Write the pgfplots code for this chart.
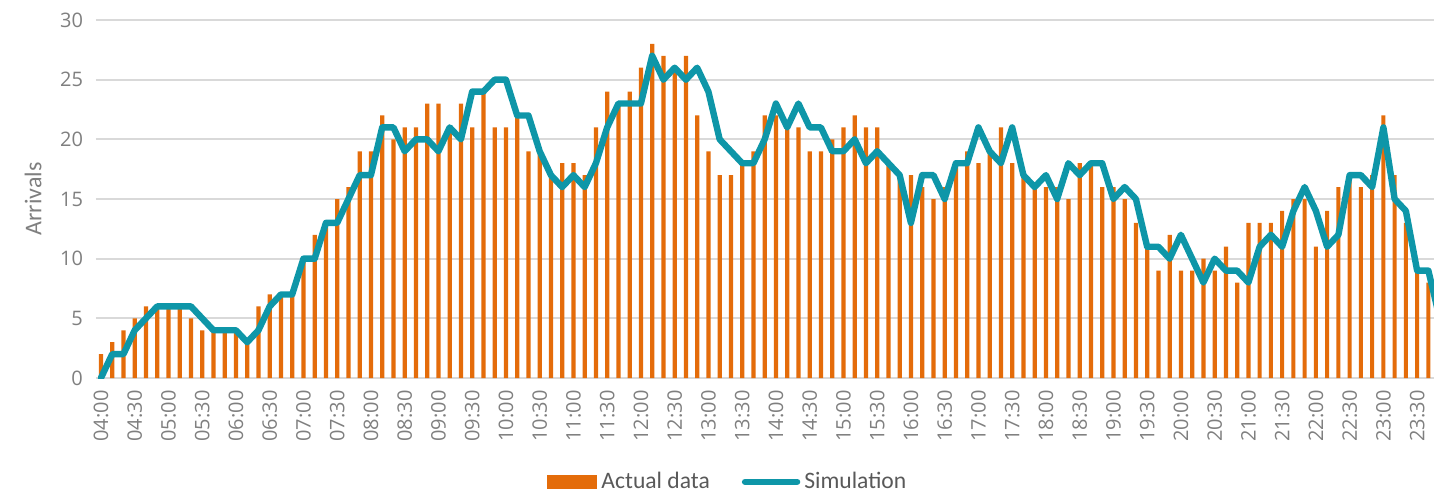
\documentclass[border=0pt]{standalone}
\usepackage{fontspec}
\setmainfont{Carlito}
\newfontfamily\tickfont{Open Sans}
\usepackage{pgfplots}
\usepackage{pgfplotstable}
\pgfplotsset{compat=1.18}
\definecolor{barc}{HTML}{E46C0A}
\definecolor{linec}{HTML}{0E96A8}
\definecolor{gridc}{HTML}{D9D9D9}
\definecolor{txt}{HTML}{7F7F7F}
\definecolor{legtxt}{HTML}{595959}
\pgfplotstableread{
x actual sim
0 2 0
1 3 2
2 4 2
3 5 4
4 6 5
5 6 6
6 6 6
7 6 6
8 5 6
9 4 5
10 4 4
11 4 4
12 4 4
13 3 3
14 6 4
15 7 6
16 7 7
17 7 7
18 10 10
19 12 10
20 13 13
21 15 13
22 16 15
23 19 17
24 19 17
25 22 21
26 20 21
27 21 19
28 21 20
29 23 20
30 23 19
31 21 21
32 23 20
33 21 24
34 24 24
35 21 25
36 21 25
37 22 22
38 19 22
39 19 19
40 17 17
41 18 16
42 18 17
43 17 16
44 21 18
45 24 21
46 23 23
47 24 23
48 26 23
49 28 27
50 27 25
51 26 26
52 27 25
53 22 26
54 19 24
55 17 20
56 17 19
57 18 18
58 19 18
59 22 20
60 22 23
61 21 21
62 21 23
63 19 21
64 19 21
65 20 19
66 21 19
67 22 20
68 21 18
69 21 19
70 18 18
71 17 17
72 17 13
73 16 17
74 15 17
75 16 15
76 18 18
77 19 18
78 18 21
79 19 19
80 21 18
81 18 21
82 17 17
83 16 16
84 16 17
85 16 15
86 15 18
87 18 17
88 18 18
89 16 18
90 16 15
91 15 16
92 13 15
93 11 11
94 9 11
95 12 10
96 9 12
97 9 10
98 10 8
99 9 10
100 11 9
101 8 9
102 13 8
103 13 11
104 13 12
105 14 11
106 15 14
107 15 16
108 11 14
109 14 11
110 16 12
111 17 17
112 16 17
113 17 16
114 22 21
115 17 15
116 13 14
117 9 9
118 8 9
119 7 5
}\datatable
\begin{document}
\begin{tikzpicture}
\begin{axis}[name=ax, scale only axis, width=669pt, height=179pt,
  xmin=-0.44, xmax=118.5, ymin=0, ymax=30,
  separate axis lines,
  axis x line*=bottom, axis y line*=left,
  x axis line style={draw=gridc, line width=0.9pt, -},
  y axis line style={draw=none},
  ytick={0,5,...,30}, ymajorgrids, grid style={gridc, line width=0.9pt},
  major tick length=0pt, tick style={draw=none},
  xtick={0,3,...,117},
  xticklabels={04:00,04:30,05:00,05:30,06:00,06:30,07:00,07:30,08:00,08:30,09:00,09:30,10:00,10:30,11:00,11:30,12:00,12:30,13:00,13:30,14:00,14:30,15:00,15:30,16:00,16:30,17:00,17:30,18:00,18:30,19:00,19:30,20:00,20:30,21:00,21:30,22:00,22:30,23:00,23:30},
  xticklabel shift=5pt,
  xticklabel style={rotate=90, anchor=east, font=\tickfont\fontsize{10}{12}\selectfont, text=txt, inner sep=1pt},
  yticklabel style={font=\tickfont\fontsize{10}{12}\selectfont, text=txt, xshift=-3pt},
  /pgf/number format/assume math mode=true,
  ylabel={Arrivals},
  every axis y label/.append style={at={(axis description cs:-0.047,0.5)}, anchor=center, font=\fontsize{12}{14}\selectfont, text=txt},
  legend style={at={(axis description cs:0.473,-0.29)}, anchor=center, draw=none, fill=none,
    legend columns=2, font=\fontsize{11.8}{13}\selectfont, text=legtxt,
    /tikz/every even column/.append style={column sep=14pt}},
  clip=true,
]
\addplot[ybar, bar width=2.1pt, bar shift=0pt, fill=barc, draw=none,
  legend image code/.code={\fill[barc] (0pt,-3.6pt) rectangle (25pt,3.6pt);}]
  table[x=x, y=actual] {\datatable};
\addlegendentry{Actual data}
\addplot[linec, line width=3.2pt, line join=round, line cap=round, mark=none,
  legend image code/.code={\draw[linec, line width=3.2pt, line cap=round] (1pt,0pt) -- (27pt,0pt);}]
  table[x=x, y=sim] {\datatable};
\addlegendentry{Simulation}
\end{axis}
\pgfresetboundingbox
\path[use as bounding box] ([xshift=-48pt,yshift=-60pt]ax.south west) rectangle ([yshift=10pt]ax.north east);
\end{tikzpicture}
\end{document}
